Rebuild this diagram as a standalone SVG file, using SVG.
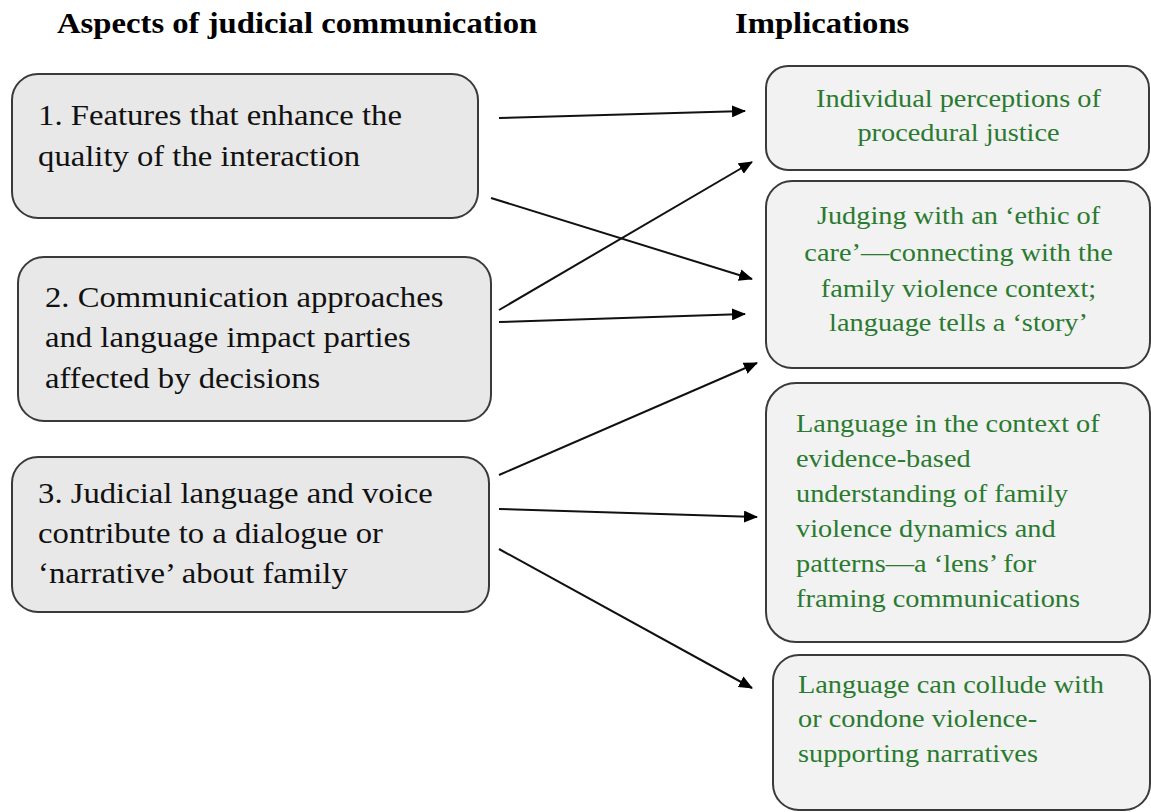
<svg xmlns="http://www.w3.org/2000/svg" width="1151" height="812" viewBox="0 0 1151 812">
<defs>
<marker id="ah" markerWidth="14" markerHeight="12" refX="13" refY="6" orient="auto" markerUnits="userSpaceOnUse">
<path d="M0,0 L14,6 L0,12 Z" fill="#000"/>
</marker>
<style>
.hdr{font-family:"Liberation Serif","Times New Roman",serif;font-weight:bold;font-size:30px;fill:#000}
.lbox{fill:#e8e8e8;stroke:#3a3a3a;stroke-width:2}
.rbox{fill:#f2f2f2;stroke:#3a3a3a;stroke-width:2}
.lt{font-family:"Liberation Serif","Times New Roman",serif;font-size:30px;fill:#111}
.rt{font-family:"Liberation Serif","Times New Roman",serif;font-size:26px;fill:#2a7a30}
.c{text-anchor:middle}
.conn line{stroke:#111;stroke-width:2;marker-end:url(#ah)}
</style>
</defs>
<rect width="1151" height="812" fill="#fff"/>
<g transform="scale(1.09 1)">
<text class="hdr" x="52.3" y="33">Aspects of judicial communication</text>
<text class="hdr" x="674.3" y="33">Implications</text>
</g>

<g id="a1">
<rect class="lbox" x="12" y="74" width="466" height="144" rx="26"/>
<g transform="scale(1.09 1)">
<text class="lt" x="34.9" y="125">1. Features that enhance the</text>
<text class="lt" x="34.9" y="166">quality of the interaction</text>
</g>
</g>
<g id="a2">
<rect class="lbox" x="18" y="257" width="473" height="164" rx="26"/>
<g transform="scale(1.09 1)">
<text class="lt" x="41.3" y="307">2. Communication approaches</text>
<text class="lt" x="41.3" y="347">and language impact parties</text>
<text class="lt" x="41.3" y="388">affected by decisions</text>
</g>
</g>
<g id="a3">
<rect class="lbox" x="12" y="457" width="477" height="155" rx="26"/>
<g transform="scale(1.09 1)">
<text class="lt" x="34.9" y="503">3. Judicial language and voice</text>
<text class="lt" x="34.9" y="543">contribute to a dialogue or</text>
<text class="lt" x="34.9" y="583">‘narrative’ about family</text>
</g>
</g>

<g id="i1">
<rect class="rbox" x="766" y="66" width="383" height="104" rx="22"/>
<g transform="scale(1.09 1)">
<text class="rt c" x="879.4" y="107">Individual perceptions of</text>
<text class="rt c" x="879.4" y="141">procedural justice</text>
</g>
</g>
<g id="i2">
<rect class="rbox" x="766" y="181" width="384" height="187" rx="26"/>
<g transform="scale(1.09 1)">
<text class="rt c" x="879.4" y="224">Judging with an ‘ethic of</text>
<text class="rt c" x="879.4" y="261">care’—connecting with the</text>
<text class="rt c" x="879.4" y="297">family violence context;</text>
<text class="rt c" x="879.4" y="331">language tells a ‘story’</text>
</g>
</g>
<g id="i3">
<rect class="rbox" x="766" y="383" width="384" height="259" rx="30"/>
<g transform="scale(1.09 1)">
<text class="rt" x="730.3" y="432">Language in the context of</text>
<text class="rt" x="730.3" y="467">evidence-based</text>
<text class="rt" x="730.3" y="502">understanding of family</text>
<text class="rt" x="730.3" y="537">violence dynamics and</text>
<text class="rt" x="730.3" y="572">patterns—a ‘lens’ for</text>
<text class="rt" x="730.3" y="607">framing communications</text>
</g>
</g>
<g id="i4">
<rect class="rbox" x="773" y="655" width="377" height="155" rx="26"/>
<g transform="scale(1.09 1)">
<text class="rt" x="732.1" y="693">Language can collude with</text>
<text class="rt" x="732.1" y="727">or condone violence-</text>
<text class="rt" x="732.1" y="762">supporting narratives</text>
</g>
</g>

<g id="connectors" class="conn">
<line x1="499" y1="118" x2="745" y2="111"/>
<line x1="491" y1="198" x2="752" y2="279"/>
<line x1="499" y1="310" x2="752" y2="162"/>
<line x1="499" y1="322" x2="745" y2="314"/>
<line x1="499" y1="475" x2="757" y2="363"/>
<line x1="499" y1="509" x2="757" y2="517"/>
<line x1="499" y1="549" x2="752" y2="688"/>
</g>
</svg>
